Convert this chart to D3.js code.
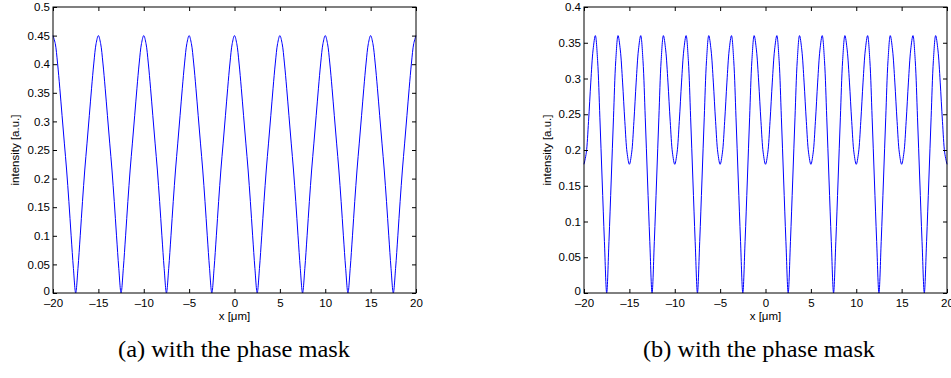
<!DOCTYPE html>
<html>
<head>
<meta charset="utf-8">
<script src="https://cdn.jsdelivr.net/npm/d3@7"></script>
<style>
  html, body { margin: 0; padding: 0; background: #fff; }
  svg { display: block; }
  .tick text { font-family: "Liberation Sans", Arial, sans-serif; font-size: 11.5px; fill: #000; }
</style>
</head>
<body>
<svg id="chart" width="951" height="378"></svg>
<script>
// x positions (µm), sampled every 0.25
const xValues = d3.range(161).map(i => -20 + i * 0.25);

// Panel (a): intensity
const intensityA = [
  0.450,0.436,0.402,0.358,0.310,0.262,0.215,0.160,0.100,0.043,0.000,0.043,0.100,0.160,0.215,0.262,0.310,0.358,0.402,0.436,
  0.450,0.436,0.402,0.358,0.310,0.262,0.215,0.160,0.100,0.043,0.000,0.043,0.100,0.160,0.215,0.262,0.310,0.358,0.402,0.436,
  0.450,0.436,0.402,0.358,0.310,0.262,0.215,0.160,0.100,0.043,0.000,0.043,0.100,0.160,0.215,0.262,0.310,0.358,0.402,0.436,
  0.450,0.436,0.402,0.358,0.310,0.262,0.215,0.160,0.100,0.043,0.000,0.043,0.100,0.160,0.215,0.262,0.310,0.358,0.402,0.436,
  0.450,0.436,0.402,0.358,0.310,0.262,0.215,0.160,0.100,0.043,0.000,0.043,0.100,0.160,0.215,0.262,0.310,0.358,0.402,0.436,
  0.450,0.436,0.402,0.358,0.310,0.262,0.215,0.160,0.100,0.043,0.000,0.043,0.100,0.160,0.215,0.262,0.310,0.358,0.402,0.436,
  0.450,0.436,0.402,0.358,0.310,0.262,0.215,0.160,0.100,0.043,0.000,0.043,0.100,0.160,0.215,0.262,0.310,0.358,0.402,0.436,
  0.450,0.436,0.402,0.358,0.310,0.262,0.215,0.160,0.100,0.043,0.000,0.043,0.100,0.160,0.215,0.262,0.310,0.358,0.402,0.436,
  0.450
];

// Panel (b): intensity
const intensityB = [
  0.180,0.196,0.240,0.295,0.340,0.360,0.325,0.245,0.158,0.072,0.000,0.072,0.158,0.245,0.325,0.360,0.340,0.295,0.240,0.196,
  0.180,0.196,0.240,0.295,0.340,0.360,0.325,0.245,0.158,0.072,0.000,0.072,0.158,0.245,0.325,0.360,0.340,0.295,0.240,0.196,
  0.180,0.196,0.240,0.295,0.340,0.360,0.325,0.245,0.158,0.072,0.000,0.072,0.158,0.245,0.325,0.360,0.340,0.295,0.240,0.196,
  0.180,0.196,0.240,0.295,0.340,0.360,0.325,0.245,0.158,0.072,0.000,0.072,0.158,0.245,0.325,0.360,0.340,0.295,0.240,0.196,
  0.180,0.196,0.240,0.295,0.340,0.360,0.325,0.245,0.158,0.072,0.000,0.072,0.158,0.245,0.325,0.360,0.340,0.295,0.240,0.196,
  0.180,0.196,0.240,0.295,0.340,0.360,0.325,0.245,0.158,0.072,0.000,0.072,0.158,0.245,0.325,0.360,0.340,0.295,0.240,0.196,
  0.180,0.196,0.240,0.295,0.340,0.360,0.325,0.245,0.158,0.072,0.000,0.072,0.158,0.245,0.325,0.360,0.340,0.295,0.240,0.196,
  0.180,0.196,0.240,0.295,0.340,0.360,0.325,0.245,0.158,0.072,0.000,0.072,0.158,0.245,0.325,0.360,0.340,0.295,0.240,0.196,
  0.180
];

const xTicks = [-20, -15, -10, -5, 0, 5, 10, 15, 20];
const yTicksA = [0, 0.05, 0.1, 0.15, 0.2, 0.25, 0.3, 0.35, 0.4, 0.45, 0.5];
const yTicksB = [0, 0.05, 0.1, 0.15, 0.2, 0.25, 0.3, 0.35, 0.4];
const xLabel = "x [\u03bcm]";
const yLabel = "intensity [a.u.]";
const captions = ["(a) with the phase mask", "(b) with the phase mask"];

const svg = d3.select("#chart");
const panels = [
  { left: 53, values: intensityA, yMax: 0.5, yTicks: yTicksA, caption: captions[0], capX: 234, yLabX: 15 },
  { left: 584, values: intensityB, yMax: 0.4, yTicks: yTicksB, caption: captions[1], capX: 759, yLabX: 547 }
];
const plotTop = 7, plotBottom = 293, plotWidth = 363;

const fmtY = d => d === 0 ? "0" : d3.format("")(d);
const fmtX = d => d < 0 ? "\u2013" + Math.abs(d) : String(d);

panels.forEach(p => {
  const x = d3.scaleLinear().domain([-20, 20]).range([p.left, p.left + plotWidth]);
  const y = d3.scaleLinear().domain([0, p.yMax]).range([plotBottom, plotTop]);
  const g = svg.append("g");

  // curve
  const line = d3.line()
    .x((d, i) => x(xValues[i]))
    .y(d => y(d))
    .curve(d3.curveCatmullRom.alpha(0.5));
  g.append("path")
    .datum(p.values)
    .attr("d", line)
    .attr("fill", "none")
    .attr("stroke", "#0000ff")
    .attr("stroke-width", 1);

  // axes (ticks inward)
  const ax = (gen, tr) => g.append("g").attr("transform", tr).call(gen)
    .call(s => s.select(".domain").remove())
    .call(s => s.selectAll(".tick line").attr("stroke", "#000"));

  ax(d3.axisBottom(x).tickValues(xTicks).tickFormat(fmtX).tickSizeInner(-4).tickSizeOuter(0).tickPadding(6),
     `translate(0,${plotBottom})`);
  ax(d3.axisTop(x).tickValues(xTicks).tickFormat("").tickSizeInner(-4).tickSizeOuter(0),
     `translate(0,${plotTop})`);
  const yAx = ax(d3.axisLeft(y).tickValues(p.yTicks).tickFormat(fmtY).tickSizeInner(-4).tickSizeOuter(0).tickPadding(3),
     `translate(${p.left},0)`);
  // zero label sits slightly above the axis line, as in the reference
  yAx.selectAll(".tick text").filter(d => d === 0).attr("dy", "0.1em");
  ax(d3.axisRight(y).tickValues(p.yTicks).tickFormat("").tickSizeInner(-4).tickSizeOuter(0),
     `translate(${p.left + plotWidth},0)`);

  // box
  g.append("rect")
    .attr("x", p.left).attr("y", plotTop)
    .attr("width", plotWidth).attr("height", plotBottom - plotTop)
    .attr("fill", "none").attr("stroke", "#000").attr("stroke-width", 1);

  // axis labels
  g.append("text")
    .attr("x", p.left + plotWidth / 2).attr("y", 320)
    .attr("text-anchor", "middle")
    .style("font-family", "Liberation Sans, Arial, sans-serif")
    .style("font-size", "11.5px")
    .text(xLabel);
  g.append("text")
    .attr("transform", `translate(${p.yLabX + 4},${(plotTop + plotBottom) / 2}) rotate(-90)`)
    .attr("text-anchor", "middle")
    .style("font-family", "Liberation Sans, Arial, sans-serif")
    .style("font-size", "11.5px")
    .text(yLabel);

  // caption
  g.append("text")
    .attr("x", p.capX).attr("y", 357)
    .attr("text-anchor", "middle")
    .attr("textLength", 232)
    .attr("lengthAdjust", "spacingAndGlyphs")
    .style("font-family", "Liberation Serif, Times New Roman, serif")
    .style("font-size", "23px")
    .text(p.caption);
});
</script>
</body>
</html>
